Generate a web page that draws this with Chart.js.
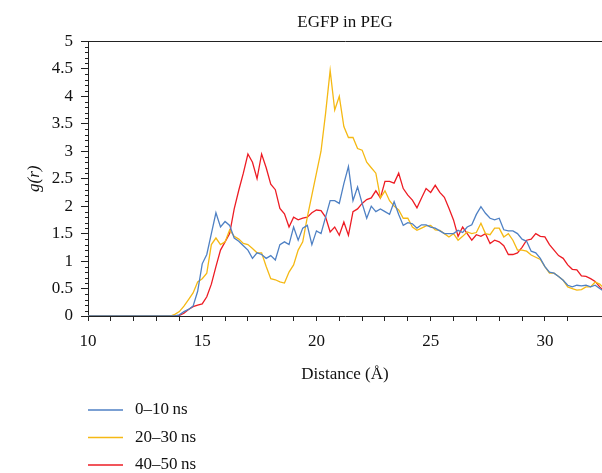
<!DOCTYPE html>
<html>
<head>
<meta charset="utf-8">
<script src="https://cdn.jsdelivr.net/npm/chart.js@4"></script>
<style>
  html, body { margin: 0; padding: 0; background: #fff; }
  #wrap { width: 602px; height: 473px; }
</style>
</head>
<body>
<div id="wrap"><canvas id="rdfChart"></canvas></div>
<script>
/* ── data: g(r) of EGFP in PEG, three time windows ── */
const distance = [
  10, 13.4, 13.6, 13.8, 14.0, 14.2, 14.4, 14.6, 14.8, 15.0,
  15.2, 15.4, 15.6, 15.8, 16.0, 16.2, 16.4, 16.6, 16.8, 17.0,
  17.2, 17.4, 17.6, 17.8, 18.0, 18.2, 18.4, 18.6, 18.8, 19.0,
  19.2, 19.4, 19.6, 19.8, 20.0, 20.2, 20.4, 20.6, 20.8, 21.0,
  21.2, 21.4, 21.6, 21.8, 22.0, 22.2, 22.4, 22.6, 22.8, 23.0,
  23.2, 23.4, 23.6, 23.8, 24.0, 24.2, 24.4, 24.6, 24.8, 25.0,
  25.2, 25.4, 25.6, 25.8, 26.0, 26.2, 26.4, 26.6, 26.8, 27.0,
  27.2, 27.4, 27.6, 27.8, 28.0, 28.2, 28.4, 28.6, 28.8, 29.0,
  29.2, 29.4, 29.6, 29.8, 30.0, 30.2, 30.4, 30.6, 30.8, 31.0,
  31.2, 31.4, 31.6, 31.8, 32.0, 32.2, 32.4, 32.6
];

const gr0to10 = [
  0, 0, 0, 0, 0.02, 0.08, 0.12, 0.18, 0.45, 0.95,
  1.12, 1.5, 1.88, 1.62, 1.72, 1.65, 1.42, 1.36, 1.28, 1.2,
  1.05, 1.15, 1.12, 1.05, 1.1, 1.02, 1.3, 1.35, 1.3, 1.62,
  1.38, 1.6, 1.65, 1.3, 1.55, 1.5, 1.8, 2.1, 2.1, 2.05,
  2.41, 2.72, 2.1, 2.35, 2.05, 1.78, 2.0, 1.9, 1.95, 1.9,
  1.85, 2.08, 1.85, 1.65, 1.7, 1.68, 1.6, 1.66, 1.66, 1.62,
  1.6, 1.55, 1.5, 1.5, 1.5, 1.56, 1.52, 1.62, 1.66, 1.85,
  1.99, 1.87, 1.78, 1.75, 1.78, 1.57, 1.55, 1.55, 1.5, 1.4,
  1.36, 1.18, 1.15, 1.05, 0.9, 0.8, 0.78, 0.72, 0.65, 0.56,
  0.53, 0.56, 0.55, 0.56, 0.53, 0.56, 0.5, 0.45
];

const gr20to30 = [
  0, 0, 0, 0.03, 0.08, 0.18, 0.3, 0.42, 0.62, 0.68,
  0.78, 1.3, 1.42, 1.3, 1.35, 1.57, 1.45, 1.4, 1.32, 1.3,
  1.23, 1.15, 1.15, 0.9, 0.68, 0.66, 0.62, 0.6, 0.8, 0.93,
  1.2, 1.35, 1.8, 2.2, 2.6, 3.0, 3.69, 4.47, 3.75, 4.0,
  3.45, 3.25, 3.25, 3.05, 3.02, 2.8, 2.7, 2.6, 2.15, 2.28,
  2.1, 2.0, 1.93, 1.78, 1.78, 1.62, 1.56, 1.6, 1.64, 1.65,
  1.57, 1.56, 1.5, 1.44, 1.5, 1.38, 1.45, 1.53, 1.5, 1.52,
  1.69, 1.5, 1.48, 1.6, 1.6, 1.44, 1.5, 1.38, 1.2, 1.2,
  1.18, 1.11, 1.07, 1.03, 0.9, 0.78, 0.78, 0.72, 0.65, 0.53,
  0.5, 0.47, 0.48, 0.53, 0.53, 0.62, 0.58, 0.5
];

const gr40to50 = [
  0, 0, 0, 0, 0.01, 0.05, 0.12, 0.17, 0.2, 0.22,
  0.35, 0.58, 0.9, 1.2, 1.35, 1.5, 1.95, 2.29, 2.6, 2.95,
  2.8, 2.5, 2.95, 2.7, 2.4, 2.3, 1.96, 1.86, 1.62, 1.8,
  1.75, 1.78, 1.8, 1.88, 1.93, 1.92, 1.8, 1.53, 1.62, 1.47,
  1.71, 1.47, 1.9, 1.95, 2.05, 2.12, 2.15, 2.28, 2.15, 2.45,
  2.45, 2.42, 2.6, 2.32, 2.2, 2.11, 1.97, 2.15, 2.32, 2.25,
  2.38, 2.25, 2.16, 1.96, 1.75, 1.45, 1.62, 1.5, 1.38, 1.48,
  1.45, 1.5, 1.32, 1.38, 1.35, 1.28, 1.12, 1.12, 1.15, 1.25,
  1.38, 1.4, 1.5, 1.45, 1.44, 1.3, 1.2, 1.1, 1.05, 0.93,
  0.85, 0.84, 0.73, 0.72, 0.68, 0.63, 0.53, 0.45
];

const seriesLabels = ['0\u201310\u2009ns', '20\u201330\u2009ns', '40\u201350\u2009ns'];
const seriesColors = ['#4f81c4', '#f5b914', '#ed1c24'];

const FONT = "'Liberation Serif', 'Times New Roman', serif";
const AXIS = '#222';

const toPoints = ys => distance.map((r, i) => ({ x: r, y: ys[i] }));

/* ── minor y ticks + legend block under the axis title ── */
const extrasPlugin = {
  id: 'extras',
  afterDraw(chart) {
    const { ctx, chartArea } = chart;
    const y = chart.scales.y;
    ctx.save();
    ctx.strokeStyle = AXIS;
    ctx.lineWidth = 1;
    ctx.beginPath();
    for (let k = 0; k <= 50; k++) {
      if (k % 5 === 0) continue;
      const py = Math.round(y.getPixelForValue(k / 10)) + 0.5;
      ctx.moveTo(chartArea.left - 3, py);
      ctx.lineTo(chartArea.left, py);
    }
    ctx.stroke();

    ctx.font = '17px ' + FONT;
    ctx.textBaseline = 'middle';
    chart.data.datasets.forEach((ds, i) => {
      const ly = 410 + i * 27.5;
      ctx.strokeStyle = ds.borderColor;
      ctx.lineWidth = 1.3;
      ctx.beginPath();
      ctx.moveTo(88, ly);
      ctx.lineTo(123, ly);
      ctx.stroke();
      ctx.fillStyle = '#111';
      ctx.fillText(ds.label, 135, ly);
    });
    ctx.restore();
  },
};

// no side padding for the horizontal axes, so the plot runs to the right edge
const noSidePad = s => { s.paddingLeft = 0; s.paddingRight = 0; };

const ctx = document.getElementById('rdfChart').getContext('2d');
new Chart(ctx, {
  type: 'line',
  data: {
    datasets: [gr0to10, gr20to30, gr40to50].map((ys, i) => ({
      label: seriesLabels[i],
      data: toPoints(ys),
      borderColor: seriesColors[i],
      borderWidth: 1.3,
      pointRadius: 0,
      tension: 0,
      fill: false,
    })),
  },
  options: {
    responsive: true,
    maintainAspectRatio: false,
    animation: false,
    layout: { padding: { left: 0, right: 0, top: 0, bottom: 77 } },
    plugins: {
      legend: { display: false },
      tooltip: { enabled: false },
    },
    scales: {
      x: {
        type: 'linear',
        position: 'bottom',
        min: 10,
        max: 32.5,
        afterFit: s => { s.height = 80; noSidePad(s); },
        border: { display: true, color: AXIS, width: 1 },
        grid: { drawOnChartArea: false, drawTicks: true, tickLength: 5, color: AXIS },
        ticks: {
          stepSize: 1,
          autoSkip: false,
          maxRotation: 0,
          padding: 10,
          color: '#111',
          font: { family: FONT, size: 17 },
          callback: v => (v % 5 === 0 ? String(v) : ''),
        },
        title: {
          display: true,
          text: 'Distance (\u00C5)',
          color: '#111',
          font: { family: FONT, size: 17 },
          padding: { top: 0, bottom: 11 },
        },
      },
      xTop: {
        type: 'linear',
        position: 'top',
        min: 10,
        max: 32.5,
        afterFit: noSidePad,
        border: { display: true, color: AXIS, width: 1 },
        grid: { drawOnChartArea: false, drawTicks: false },
        ticks: { display: false },
        title: {
          display: true,
          text: 'EGFP in PEG',
          color: '#111',
          font: { family: FONT, size: 17 },
          padding: { top: 12, bottom: 9 },
        },
      },
      y: {
        min: 0,
        max: 5,
        afterFit: s => { s.width = 88; },
        border: { display: true, color: AXIS, width: 1 },
        grid: { drawOnChartArea: false, drawTicks: true, tickLength: 7, color: AXIS },
        ticks: {
          stepSize: 0.5,
          padding: 8,
          color: '#111',
          font: { family: FONT, size: 17 },
          callback: v => String(+v.toFixed(1)),
        },
        title: {
          display: true,
          text: 'g(r)',
          color: '#111',
          font: { family: FONT, size: 17, style: 'italic' },
          padding: { top: 24, bottom: 0 },
        },
      },
    },
  },
  plugins: [extrasPlugin],
});
</script>
</body>
</html>
